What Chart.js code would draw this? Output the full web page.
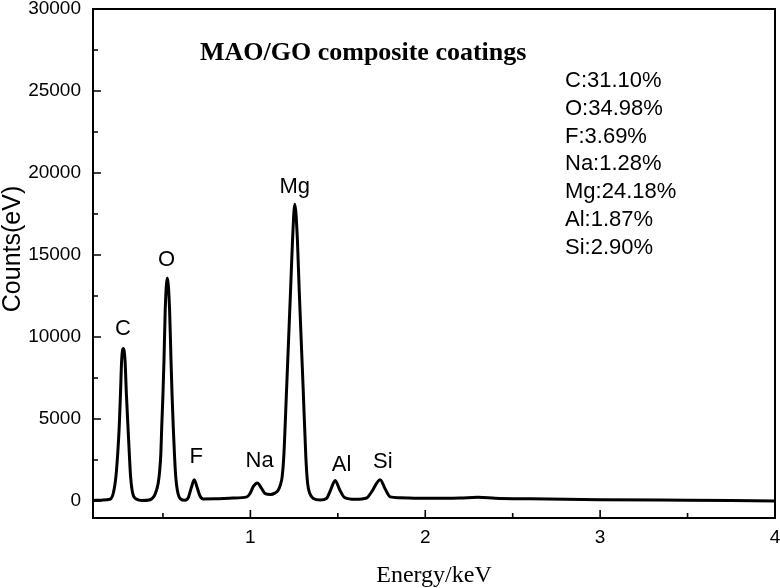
<!DOCTYPE html>
<html>
<head>
<meta charset="utf-8">
<script src="https://cdn.jsdelivr.net/npm/chart.js@4/dist/chart.umd.min.js"></script>
<style>
  html, body { margin: 0; padding: 0; background: #fff; }
  #wrap { width: 780px; height: 588px; }
</style>
</head>
<body>
<div id="wrap"><canvas id="edsChart" width="780" height="588"></canvas></div>
<script>
// EDS spectrum (energy in keV, counts)
const energy = [0.10, 0.15, 0.197, 0.216, 0.231, 0.242, 0.250, 0.257, 0.264, 0.273, 0.283, 0.291, 0.300, 0.308, 0.315, 0.327, 0.350,
  0.380, 0.420, 0.435, 0.450, 0.463, 0.473, 0.481, 0.488, 0.493, 0.500, 0.506, 0.513, 0.525, 0.538, 0.546, 0.552, 0.559, 0.566, 0.573, 0.583, 0.600,
  0.626, 0.645, 0.662, 0.679, 0.696, 0.712, 0.730, 0.800, 0.900, 0.980, 0.998, 1.018, 1.040, 1.062, 1.085, 1.115, 1.140,
  1.159, 1.172, 1.182, 1.191, 1.207, 1.230, 1.241, 1.254, 1.269, 1.279, 1.302, 1.317, 1.327, 1.340, 1.360, 1.400,
  1.435, 1.458, 1.485, 1.510, 1.540, 1.600, 1.665, 1.693, 1.742, 1.770, 1.800, 1.850, 2.000, 2.200, 2.300, 2.400,
  2.600, 3.000, 3.500, 4.000];
const counts = [30, 50, 100, 470, 1480, 3000, 4530, 6500, 8600, 9300, 8600, 6500, 4530, 2800, 1480, 470, 100,
  30, 60, 120, 300, 650, 1100, 1800, 2900, 4500, 6500, 8600, 11650, 13600, 11650, 8600, 6500, 4500, 2800, 1500, 600, 130,
  40, 200, 800, 1300, 800, 300, 120, 130, 180, 250, 450, 900, 1100, 800, 450, 400, 480,
  650, 1000, 1500, 2700, 6800, 12900, 15900, 18100, 15900, 12900, 6800, 2700, 1100, 450, 150, 60,
  150, 650, 1250, 700, 200, 100, 180, 550, 1300, 750, 250, 200, 160, 180, 220, 170,
  130, 80, 40, 0];

// peak labels, anchored in data units (text baseline)
const peakNames = ['C', 'O', 'F', 'Na', 'Mg', 'Al', 'Si'];
const peakLabelEnergy = [0.271, 0.521, 0.690, 1.053, 1.254, 1.521, 1.757];
const peakLabelCounts = [10100, 14330, 2330, 2090, 18800, 1850, 1990];

const composition = ['C:31.10%', 'O:34.98%', 'F:3.69%', 'Na:1.28%', 'Mg:24.18%', 'Al:1.87%', 'Si:2.90%'];
const chartTitle = 'MAO/GO composite coatings';

// tick positions (labelled ones are the majors)
const xTicks = [0.5, 1, 1.5, 2, 2.5, 3, 3.5, 4];
const xMajorTicks = [1, 2, 3, 4];
const yTicks = [0, 2500, 5000, 7500, 10000, 12500, 15000, 17500, 20000, 22500, 25000, 27500, 30000];
const yMajorTicks = [0, 5000, 10000, 15000, 20000, 25000, 30000];

const SANS = '"Liberation Sans", Arial, sans-serif';
const SERIF = '"Liberation Serif", "Times New Roman", serif';

// frame, inward ticks and text
const decor = {
  id: 'decor',
  afterDraw(chart) {
    const { ctx, chartArea: a, scales: { x, y } } = chart;
    ctx.save();
    ctx.strokeStyle = '#000';
    ctx.lineWidth = 2;
    ctx.strokeRect(a.left, a.top, a.right - a.left, a.bottom - a.top);

    ctx.lineWidth = 1.6;
    ctx.beginPath();
    x.ticks.forEach(t => {
      const px = x.getPixelForValue(t.value);
      const len = xMajorTicks.includes(t.value) ? 8 : 5;
      ctx.moveTo(px, a.bottom);
      ctx.lineTo(px, a.bottom - len);
    });
    y.ticks.forEach(t => {
      const py = y.getPixelForValue(t.value);
      const len = yMajorTicks.includes(t.value) ? 8 : 5;
      ctx.moveTo(a.left, py);
      ctx.lineTo(a.left + len, py);
    });
    ctx.stroke();

    ctx.fillStyle = '#000';
    ctx.textBaseline = 'alphabetic';

    // peak labels
    ctx.font = '22px ' + SANS;
    ctx.textAlign = 'center';
    peakNames.forEach((n, i) => {
      ctx.fillText(n, x.getPixelForValue(peakLabelEnergy[i]), y.getPixelForValue(peakLabelCounts[i]));
    });

    // composition list
    ctx.textAlign = 'left';
    composition.forEach((s, i) => ctx.fillText(s, 565, 87 + i * 27.8));

    // title
    ctx.font = 'bold 26px ' + SERIF;
    ctx.fillText(chartTitle, 200, 60);

    // axis titles
    ctx.font = '24px ' + SERIF;
    ctx.textAlign = 'center';
    ctx.fillText('Energy/keV', (a.left + a.right) / 2, 582);

    ctx.save();
    ctx.translate(20, 249);
    ctx.rotate(-Math.PI / 2);
    ctx.font = '25px ' + SANS;
    ctx.fillText('Counts(eV)', 0, 0);
    ctx.restore();

    ctx.restore();
  }
};

new Chart(document.getElementById('edsChart'), {
  type: 'line',
  data: {
    datasets: [{
      data: energy.map((e, i) => ({ x: e, y: counts[i] })),
      borderColor: '#000',
      borderWidth: 3,
      pointRadius: 0,
      fill: false,
      cubicInterpolationMode: 'monotone'
    }]
  },
  options: {
    responsive: false,
    animation: false,
    devicePixelRatio: 1,
    layout: { padding: { top: 9, right: 5, left: 0, bottom: 0 } },
    plugins: { legend: { display: false }, tooltip: { enabled: false } },
    scales: {
      x: {
        type: 'linear',
        min: 0.1,
        max: 4,
        grid: { display: false, drawTicks: false },
        border: { display: false },
        afterBuildTicks: s => { s.ticks = xTicks.map(v => ({ value: v })); },
        ticks: {
          autoSkip: false,
          maxRotation: 0,
          padding: 8,
          color: '#000',
          font: { family: SANS, size: 19 },
          callback: v => xMajorTicks.includes(v) ? String(v) : ''
        },
        afterFit: s => { s.height = 70; s.paddingLeft = 0; s.paddingRight = 0; }
      },
      y: {
        min: -1040,
        max: 30000,
        grid: { display: false, drawTicks: false },
        border: { display: false },
        afterBuildTicks: s => { s.ticks = yTicks.map(v => ({ value: v })); },
        ticks: {
          autoSkip: false,
          padding: 12,
          color: '#000',
          font: { family: SANS, size: 19 },
          callback: v => yMajorTicks.includes(v) ? String(v) : ''
        },
        afterFit: s => { s.width = 93; s.paddingTop = 0; s.paddingBottom = 0; }
      }
    }
  },
  plugins: [decor]
});
</script>
</body>
</html>
